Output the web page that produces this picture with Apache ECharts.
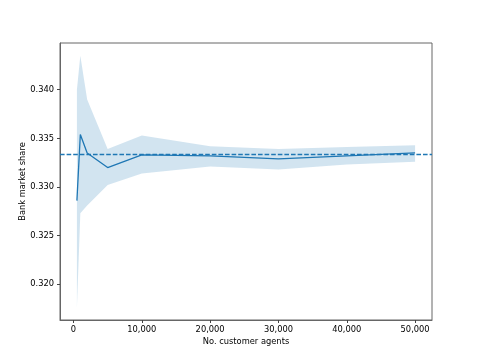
<!DOCTYPE html>
<html>
<head>
<meta charset="utf-8">
<script src="https://cdn.jsdelivr.net/npm/echarts@6/dist/echarts.min.js"></script>
<style>
  html, body { margin: 0; padding: 0; background: #fff; }
  #chart { width: 480px; height: 360px; }
</style>
</head>
<body>
<div id="chart"></div>
<script>
// number of customer agents per run
const agents = [500, 1000, 2000, 5000, 10000, 20000, 30000, 40000, 50000]
// mean bank market share
const meanShare = [0.3286, 0.3354, 0.3335, 0.3320, 0.3333, 0.3332, 0.3329, 0.3332, 0.3335]
// confidence band
const upperShare = [0.3400, 0.3435, 0.3390, 0.3339, 0.3353, 0.3342, 0.3339, 0.3341, 0.3343]
const lowerShare = [0.3176, 0.3273, 0.3281, 0.3302, 0.3314, 0.3321, 0.3318, 0.3323, 0.3326]
const xTicks = [0, 10000, 20000, 30000, 40000, 50000]
const yTicks = [0.320, 0.325, 0.330, 0.335, 0.340]
const fairShare = 1 / 3

const blue = '#1f77b4'
const font = 'DejaVu Sans'
const fs = 8.3

const chart = echarts.init(document.getElementById('chart'))

chart.setOption({
  animation: false,
  grid: {
    left: 60, right: 48, top: 43, bottom: 40,
    outerBoundsMode: 'none',
    show: true, borderColor: '#666', borderWidth: 1
  },
  xAxis: {
    type: 'value',
    min: -1975,
    max: 52475,
    name: 'No. customer agents',
    nameLocation: 'middle',
    nameGap: 18,
    nameMoveOverlap: false,
    nameTextStyle: { fontFamily: font, fontSize: fs, color: '#000' },
    axisLine: { show: true, onZero: false, lineStyle: { color: '#666', width: 1 } },
    axisTick: { show: true, length: 3, customValues: xTicks, lineStyle: { color: '#444' } },
    axisLabel: {
      customValues: xTicks,
      margin: 6,
      fontFamily: font, fontSize: fs, color: '#000',
      formatter: v => v.toLocaleString('en-US')
    },
    splitLine: { show: false }
  },
  yAxis: {
    type: 'value',
    min: 0.31633,
    max: 0.3448,
    name: 'Bank market share',
    nameLocation: 'middle',
    nameGap: 33,
    nameMoveOverlap: false,
    nameTextStyle: { fontFamily: font, fontSize: fs, color: '#000' },
    axisLine: { show: true, onZero: false, lineStyle: { color: '#666', width: 1 } },
    axisTick: { show: true, length: 3, customValues: yTicks, lineStyle: { color: '#444' } },
    axisLabel: {
      customValues: yTicks,
      margin: 6,
      fontFamily: font, fontSize: fs, color: '#000',
      formatter: v => v.toFixed(3)
    },
    splitLine: { show: false }
  },
  series: [
    {
      // shaded band between lower and upper
      type: 'custom',
      z: 1,
      silent: true,
      data: [0],
      renderItem: (params, api) => {
        const pts = []
        agents.forEach((a, i) => pts.push(api.coord([a, upperShare[i]])))
        for (let i = agents.length - 1; i >= 0; i--) {
          pts.push(api.coord([agents[i], lowerShare[i]]))
        }
        return {
          type: 'polygon',
          shape: { points: pts },
          style: { fill: 'rgba(31,119,180,0.2)', stroke: null }
        }
      }
    },
    {
      type: 'line',
      z: 3,
      data: agents.map((a, i) => [a, meanShare[i]]),
      showSymbol: false,
      lineStyle: { color: blue, width: 1.3 },
      itemStyle: { color: blue },
      markLine: {
        silent: true,
        symbol: 'none',
        precision: 8,
        label: { show: false },
        lineStyle: { color: blue, type: [4.6, 2], width: 1.3 },
        data: [{ yAxis: fairShare }]
      }
    }
  ]
})
</script>
</body>
</html>
